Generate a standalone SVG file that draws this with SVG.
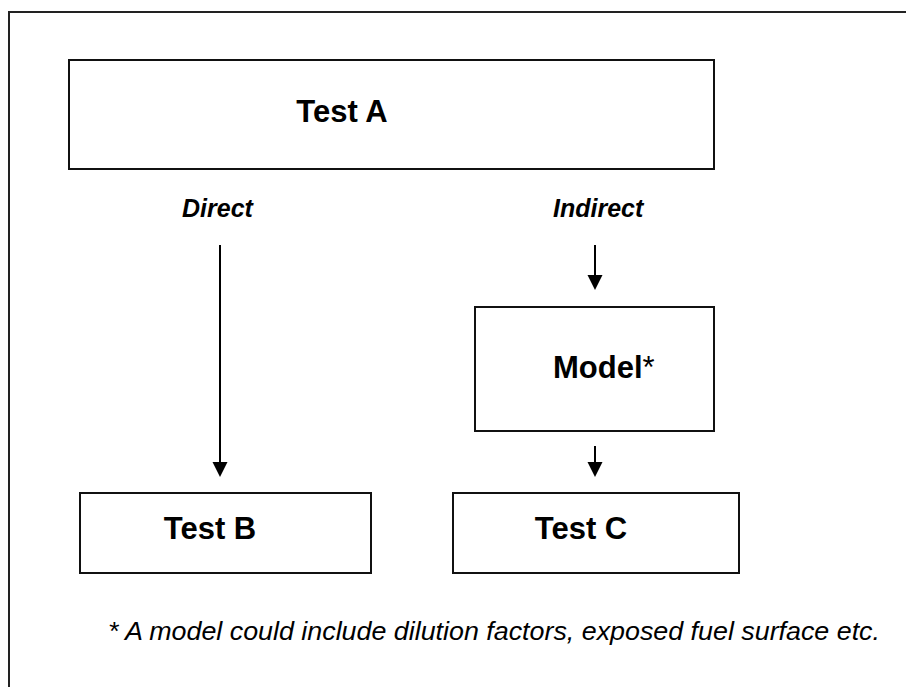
<svg xmlns="http://www.w3.org/2000/svg" width="906" height="687" viewBox="0 0 906 687">
  <style>
    .box { fill: #ffffff; stroke: #111111; stroke-width: 2; }
    .frame { fill: none; stroke: #222222; stroke-width: 2; }
    .title { font-family: "Liberation Sans", Arial, sans-serif; font-weight: bold; font-size: 31px; fill: #000000; }
    .route { font-family: "Liberation Sans", Arial, sans-serif; font-weight: bold; font-style: italic; font-size: 25px; fill: #000000; }
    .note { font-family: "Liberation Sans", Arial, sans-serif; font-style: italic; font-size: 26px; fill: #000000; }
    .link { stroke: #000000; stroke-width: 2; fill: none; }
    .head { fill: #000000; }
  </style>

  <rect width="906" height="687" fill="#ffffff"/>

  <!-- outer frame, runs off the right and bottom edges -->
  <rect class="frame" x="9" y="12" width="920" height="700"/>

  <g id="test-a">
    <rect class="box" x="69" y="60" width="645" height="109"/>
    <text class="title" x="342" y="122" text-anchor="middle">Test A</text>
  </g>

  <g id="model">
    <rect class="box" x="475" y="307" width="239" height="124"/>
    <text class="title" x="553" y="378">Model<tspan font-weight="normal">*</tspan></text>
  </g>

  <g id="test-b">
    <rect class="box" x="80" y="493" width="291" height="80"/>
    <text class="title" x="210" y="539" text-anchor="middle">Test B</text>
  </g>

  <g id="test-c">
    <rect class="box" x="453" y="493" width="286" height="80"/>
    <text class="title" x="581" y="539" text-anchor="middle">Test C</text>
  </g>

  <g id="labels">
    <text class="route" x="182" y="217">Direct</text>
    <text class="route" x="553" y="217">Indirect</text>
    <text class="note" x="108" y="640" textLength="772" lengthAdjust="spacingAndGlyphs">* A model could include dilution factors, exposed fuel surface etc.</text>
  </g>

  <g id="connectors">
    <!-- direct route: Test A to Test B -->
    <line class="link" x1="220" y1="245" x2="220" y2="464"/>
    <polygon class="head" points="212.5,462 227.5,462 220,477"/>
    <!-- indirect route: into the model -->
    <line class="link" x1="595" y1="245" x2="595" y2="277"/>
    <polygon class="head" points="587.5,275 602.5,275 595,290"/>
    <!-- model to Test C -->
    <line class="link" x1="595" y1="446" x2="595" y2="464"/>
    <polygon class="head" points="587.5,462 602.5,462 595,477"/>
  </g>
</svg>
